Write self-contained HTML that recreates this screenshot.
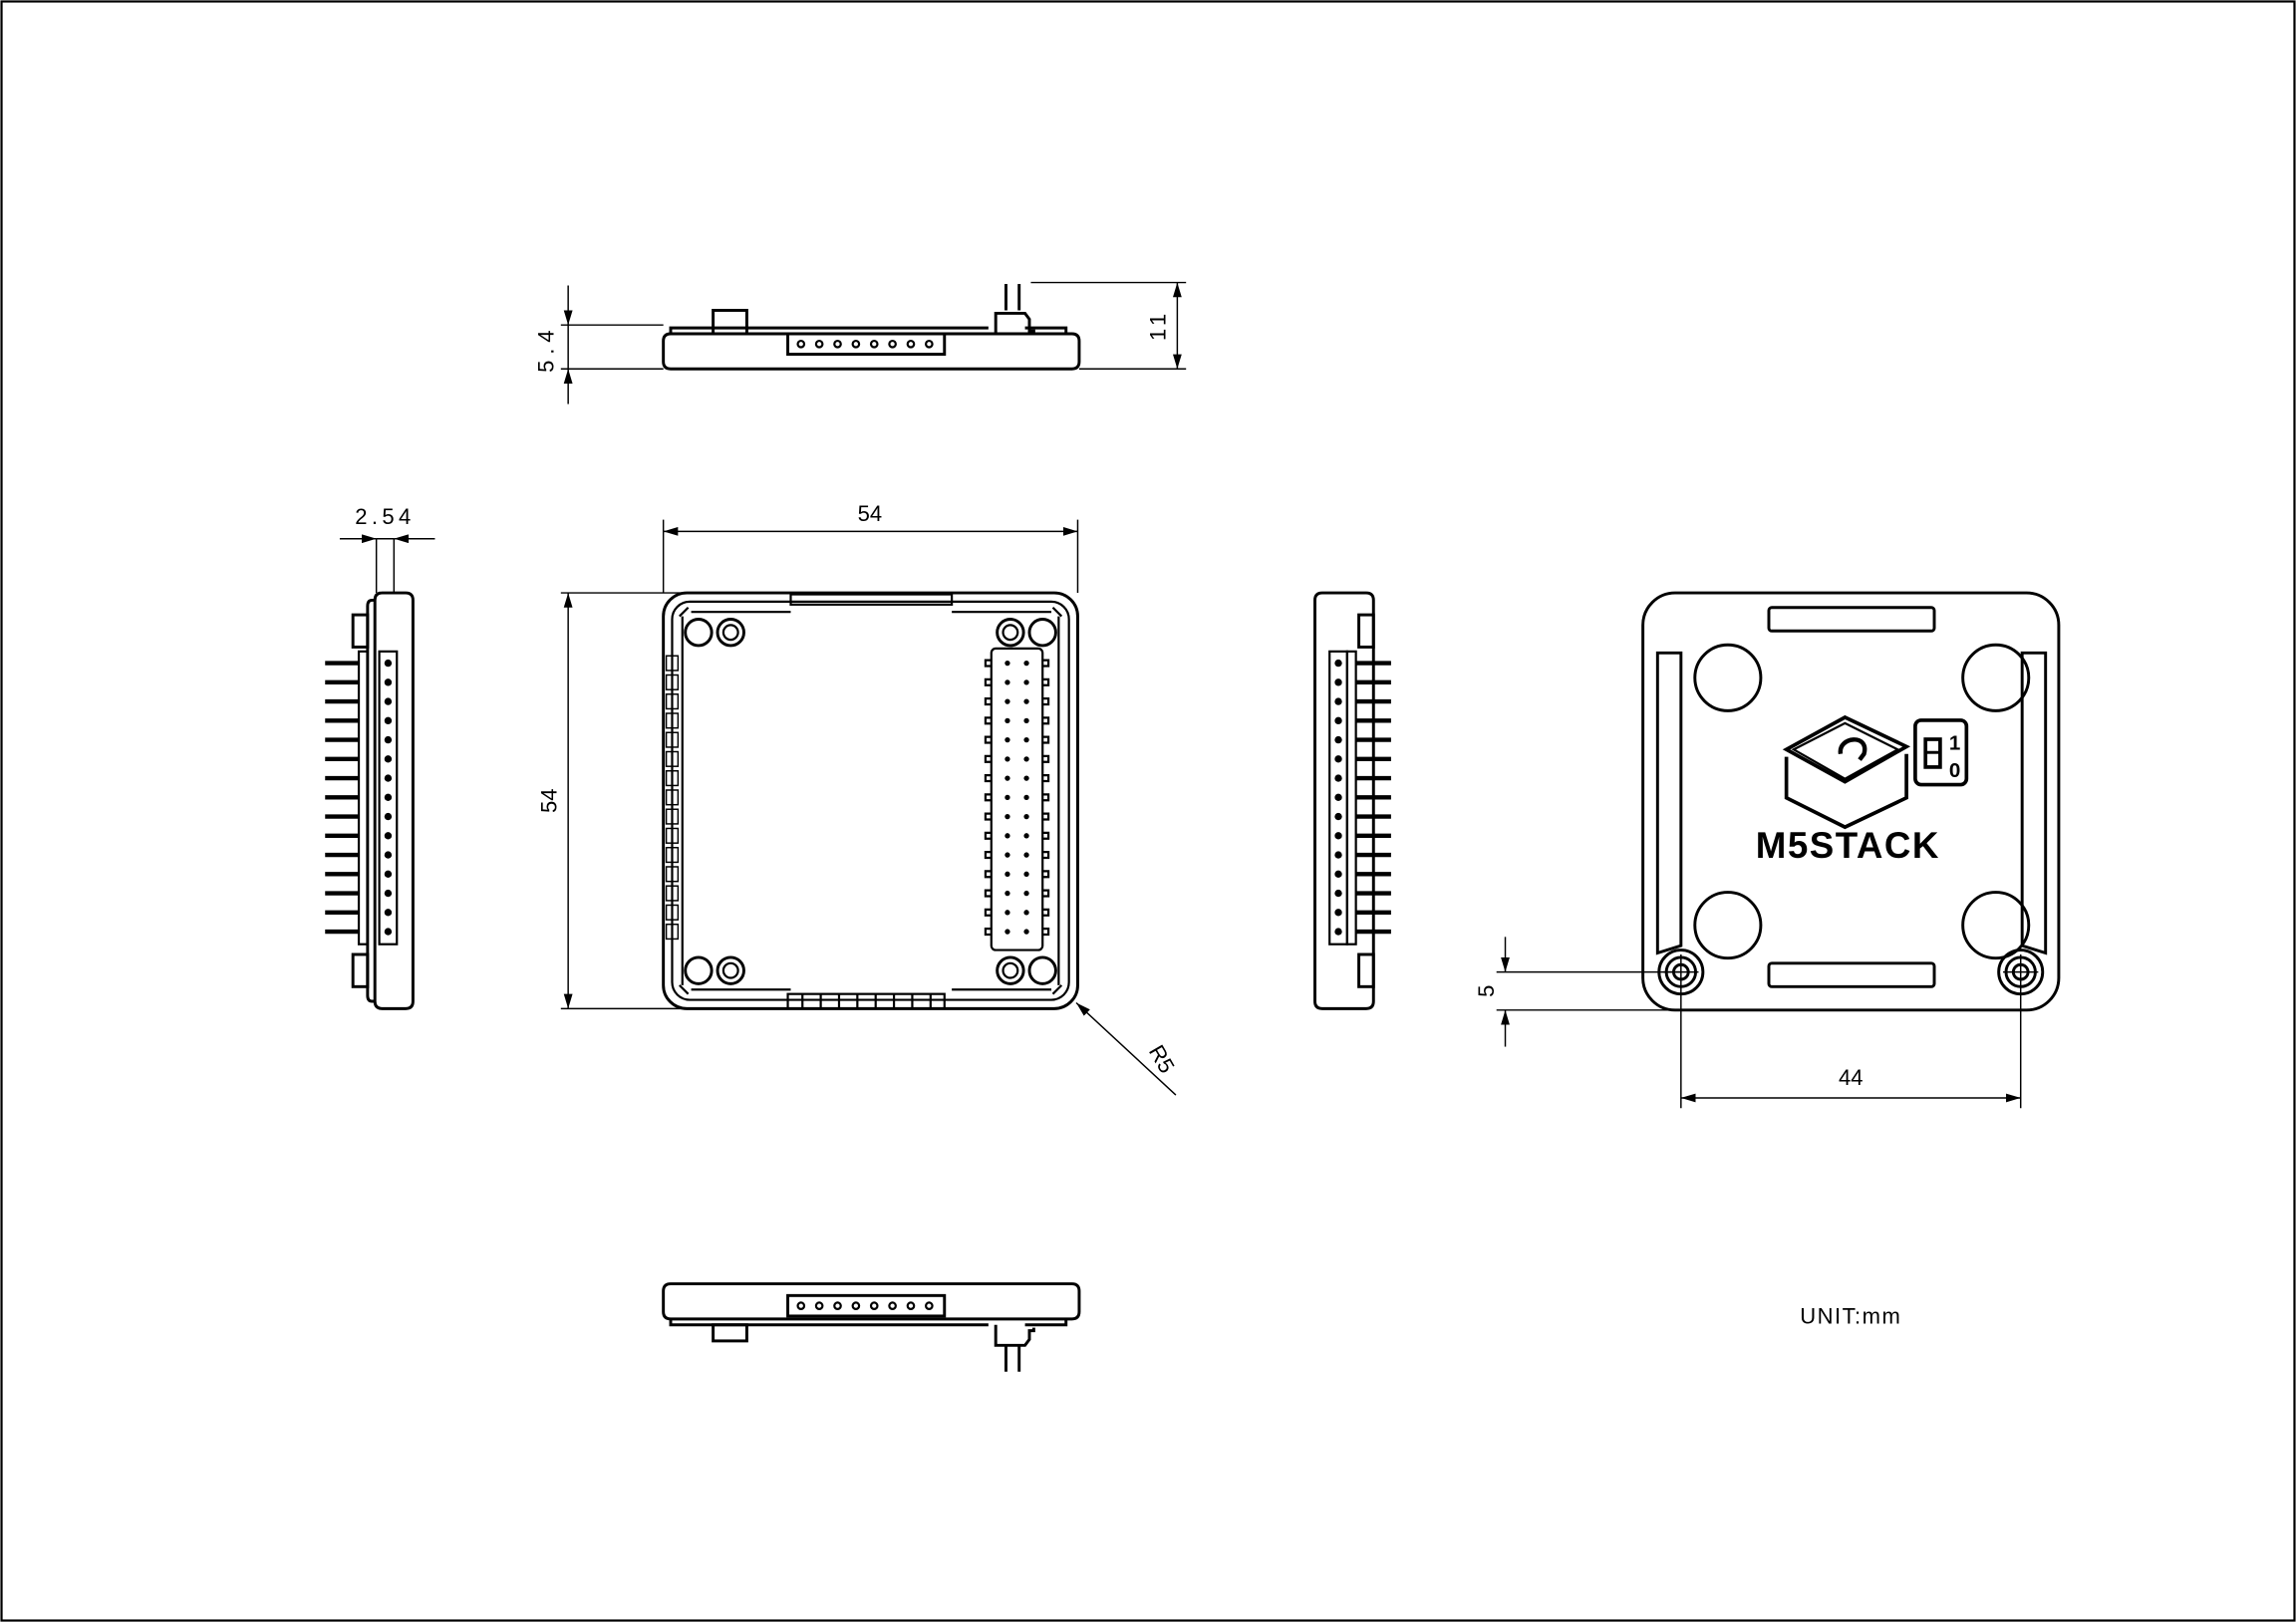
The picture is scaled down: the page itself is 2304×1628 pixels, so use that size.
<!DOCTYPE html>
<html><head><meta charset="utf-8">
<style>
html,body{margin:0;padding:0;background:#fff;}
svg{display:block;}
text{font-family:"Liberation Sans",sans-serif;fill:#000;}
</style></head>
<body>
<svg id="s" width="2304" height="1628" viewBox="0 0 1568 1108" xmlns="http://www.w3.org/2000/svg">
<defs>
<marker id="a" viewBox="0 0 10 6" refX="10" refY="3" markerWidth="10" markerHeight="6" orient="auto-start-reverse" markerUnits="userSpaceOnUse"><path d="M0,0 L10,3 L0,6 z" fill="#000"/></marker>
</defs>
<rect x="1" y="1" width="1566" height="1106" fill="none" stroke="#000" stroke-width="1.5"/>
<g fill="none" stroke="#000" stroke-width="1">
<line x1="383" y1="222" x2="453" y2="222"/><line x1="383" y1="252" x2="453" y2="252"/>
<line x1="388" y1="195" x2="388" y2="222" marker-end="url(#a)"/><line x1="388" y1="276" x2="388" y2="252" marker-end="url(#a)"/>
<line x1="388" y1="222" x2="388" y2="252"/>
<line x1="704" y1="193" x2="810" y2="193"/><line x1="737" y1="252" x2="810" y2="252"/>
<line x1="804" y1="193" x2="804" y2="252" marker-start="url(#a)" marker-end="url(#a)"/>
<line x1="453" y1="405" x2="453" y2="355"/><line x1="736" y1="405" x2="736" y2="355"/>
<line x1="453" y1="363" x2="736" y2="363" marker-start="url(#a)" marker-end="url(#a)"/>
<line x1="383" y1="405" x2="470" y2="405"/><line x1="383" y1="689" x2="470" y2="689"/>
<line x1="388" y1="405" x2="388" y2="689" marker-start="url(#a)" marker-end="url(#a)"/>
<line x1="803" y1="748" x2="735" y2="685" marker-end="url(#a)"/>
<line x1="257" y1="368" x2="257" y2="405"/><line x1="269" y1="368" x2="269" y2="405"/>
<line x1="232" y1="368" x2="257" y2="368" marker-end="url(#a)"/><line x1="297" y1="368" x2="269" y2="368" marker-end="url(#a)"/>
<line x1="257" y1="368" x2="269" y2="368"/>
<line x1="1022" y1="664" x2="1148" y2="664"/><line x1="1022" y1="690" x2="1148" y2="690"/>
<line x1="1028" y1="640" x2="1028" y2="664" marker-end="url(#a)"/><line x1="1028" y1="715" x2="1028" y2="690" marker-end="url(#a)"/>
<line x1="1148" y1="652" x2="1148" y2="757"/><line x1="1380" y1="652" x2="1380" y2="757"/>
<line x1="1136" y1="664" x2="1160" y2="664"/><line x1="1368" y1="664" x2="1392" y2="664"/>
<line x1="1148" y1="750" x2="1380" y2="750" marker-start="url(#a)" marker-end="url(#a)"/>
</g>
<g font-size="15">
<text x="594" y="356" text-anchor="middle">54</text>
<text transform="translate(380,547) rotate(-90)" text-anchor="middle">54</text>
<text transform="translate(378,238) rotate(-90)" text-anchor="middle" letter-spacing="4">5.4</text>
<text transform="translate(796,222) rotate(-90)" text-anchor="middle" letter-spacing="3">11</text>
<text x="263" y="358" text-anchor="middle" letter-spacing="3">2.54</text>
<text transform="translate(789,726) rotate(60)" text-anchor="middle">R5</text>
<text transform="translate(1020,677) rotate(-90)" text-anchor="middle">5</text>
<text x="1264" y="741" text-anchor="middle">44</text>
<text x="1264" y="904" text-anchor="middle" letter-spacing="1">UNIT:mm</text>
</g>
<g id="d" fill="none" stroke="#000" stroke-width="2">
<path d="M453,233 q0,-5 5,-5 h274 q5,0 5,5 v14 q0,5 -5,5 h-274 q-5,0 -5,-5 z"/>
<path d="M458,228 v-4 h217 M700,224 h28 v4"/>
<rect x="538" y="228" width="107" height="14"/>
<rect x="487" y="212" width="23" height="16"/>
<path d="M680,228 v-14 h20 l3,4 v8 h3 v2"/>
<line x1="687" y1="212" x2="687" y2="194"/><line x1="696" y1="212" x2="696" y2="194"/>
<path d="M453,882 q0,-5 5,-5 h274 q5,0 5,5 v14 q0,5 -5,5 h-274 q-5,0 -5,-5 z"/>
<path d="M458,901 v4 h217 M700,905 h28 v-4"/>
<rect x="538" y="885" width="107" height="14"/>
<rect x="487" y="905" width="23" height="11"/>
<path d="M680,905 v14 h20 l3,-4 v-6 h3 v-2"/>
<line x1="687" y1="919" x2="687" y2="937"/><line x1="696" y1="919" x2="696" y2="937"/>
<rect x="453" y="405" width="283" height="284" rx="16"/>
<rect x="459" y="411" width="271" height="272" rx="12" stroke-width="1.5"/>
<path d="M472,418 h68 M650,418 h68 M472,676 h68 M650,676 h68" stroke-width="1.5"/>
<rect x="540" y="406" width="110" height="7" stroke-width="1.5"/>
<path d="M464,421 l6,-6 M725,421 l-6,-6 M464,673 l6,6 M725,673 l-6,6" stroke-width="1.5"/>
<line x1="466" y1="421" x2="466" y2="673" stroke-width="1.5"/>
<line x1="723" y1="421" x2="723" y2="673" stroke-width="1.5"/>
<rect x="538" y="679" width="107" height="10" stroke-width="1.5"/>
<rect x="677" y="443" width="35" height="206" rx="3" stroke-width="1.5"/>
<rect x="1122" y="405" width="284" height="285" rx="22"/>
<rect x="1208" y="415" width="113" height="16" rx="2"/>
<rect x="1208" y="658" width="113" height="16" rx="2"/>
<path d="M1132,446 h16 v200 l-16,5 z"/>
<path d="M1381,446 h16 v205 l-16,-5 z"/>
<circle cx="1180" cy="463" r="22.5"/><circle cx="1363" cy="463" r="22.5"/>
<circle cx="1180" cy="632" r="22.5"/><circle cx="1363" cy="632" r="22.5"/>
<circle cx="1148" cy="664" r="15"/><circle cx="1148" cy="664" r="10"/><circle cx="1148" cy="664" r="5"/>
<circle cx="1380" cy="664" r="15"/><circle cx="1380" cy="664" r="10"/><circle cx="1380" cy="664" r="5"/>
<path d="M1220,512 l40,-22 l42,20 l-42,24 z" stroke-width="2.5"/>
<path d="M1225,512 l35,-18 l36,18 l-36,20 z" stroke-width="1.5"/>
<path d="M1220,517 v28 l40,20 l42,-20 v-30" stroke-width="2.5"/>
<path d="M1257,515 c-2,-12 20,-14 16,0 l-3,4" stroke-width="3"/>
<rect x="1308" y="492" width="35" height="44" rx="4" stroke-width="2.5"/>
<rect x="1315" y="505" width="10" height="19" stroke-width="2.5"/><line x1="1315" y1="514" x2="1325" y2="514" stroke-width="2"/>
</g>
<text x="1335" y="512" font-size="14" font-weight="bold" text-anchor="middle">1</text>
<text x="1335" y="531" font-size="14" font-weight="bold" text-anchor="middle">0</text>
<text x="1262" y="586" font-size="25" font-weight="bold" text-anchor="middle" letter-spacing="1">M5STACK</text>
<g id="gen" fill="none" stroke="#000"></g>
</svg>
<script>
var g=document.getElementById('gen'),h='';
[[477,432],[499,432],[690,432],[712,432],[477,663],[499,663],[690,663],[712,663]].forEach(function(p,i){
 h+='<circle cx="'+p[0]+'" cy="'+p[1]+'" r="9" stroke-width="2"/>';
 if(i%2==(i<2||(i>=4&&i<6)?1:0))h+='<circle cx="'+p[0]+'" cy="'+p[1]+'" r="5" stroke-width="1.5"/>';
});
for(var i=0;i<15;i++){var y=453+i*13.1;
 [688,701].forEach(function(x){h+='<circle cx="'+x+'" cy="'+y+'" r="1.8" fill="#000" stroke="none"/>';});
 h+='<path d="M677,'+(y-2)+' h-4 v4 h4 M712,'+(y-2)+' h4 v4 h-4" stroke-width="1.5"/>';
 h+='<rect x="455" y="'+(y-5)+'" width="8" height="10" stroke-width="1"/>';
}
for(var i=0;i<8;i++){h+='<line x1="'+(548+i*12.5)+'" y1="679" x2="'+(548+i*12.5)+'" y2="689" stroke-width="1.5"/>';}
for(var i=0;i<8;i++){var x=547+i*12.5;
 h+='<circle cx="'+x+'" cy="235" r="2.2" stroke-width="1.5"/><circle cx="'+x+'" cy="892" r="2.2" stroke-width="1.5"/>';}
h+='<path d="M256,410 q0,-5 5,-5 h16 q5,0 5,5 v274 q0,5 -5,5 h-16 q-5,0 -5,-5 z" stroke-width="2"/>';
h+='<path d="M256,410 h-2 q-3,0 -3,4 v266 q0,4 3,4 h2" stroke-width="2"/>';
h+='<rect x="241" y="420" width="10" height="22" stroke-width="2"/><rect x="241" y="652" width="10" height="22" stroke-width="2"/>';
h+='<rect x="259" y="445" width="12" height="200" stroke-width="1.5"/>';
h+='<path d="M938,410 q0,-5 -5,-5 h-30 q-5,0 -5,5 v274 q0,5 5,5 h30 q5,0 5,-5 z" stroke-width="2"/>';
h+='<rect x="928" y="420" width="10" height="22" stroke-width="2"/><rect x="928" y="652" width="10" height="22" stroke-width="2"/>';
h+='<rect x="908" y="445" width="12" height="200" stroke-width="1.5"/>';
h+='<rect x="920" y="445" width="6" height="200" stroke-width="1.5"/>';
h+='<rect x="245" y="445" width="6" height="200" stroke-width="1.5"/>';
for(var i=0;i<15;i++){var y=453+i*13.1;
 h+='<line x1="222" y1="'+y+'" x2="245" y2="'+y+'" stroke-width="3"/>';
 h+='<circle cx="265" cy="'+y+'" r="2.5" fill="#000" stroke="none"/>';
 h+='<line x1="926" y1="'+y+'" x2="950" y2="'+y+'" stroke-width="3"/>';
 h+='<circle cx="914" cy="'+y+'" r="2.5" fill="#000" stroke="none"/>';
}
g.innerHTML=h;
</script>
</body></html>
